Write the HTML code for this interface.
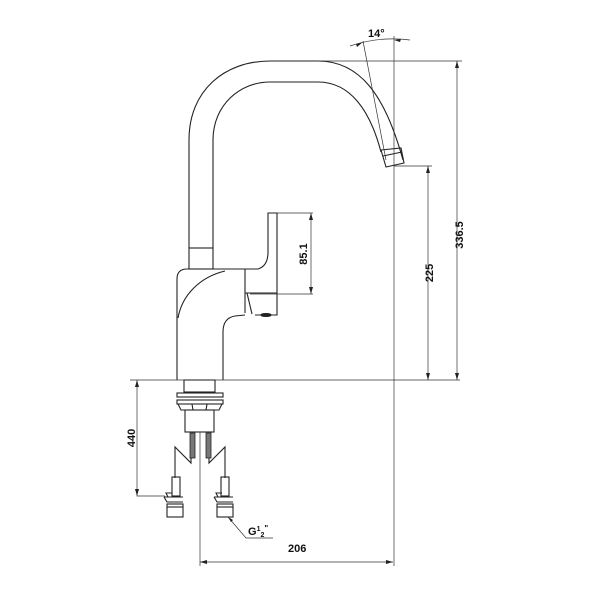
<!DOCTYPE html>
<html><head><style>body{margin:0;background:#fff}svg{display:block}</style></head><body>
<svg width="600" height="600" viewBox="0 0 600 600" xmlns="http://www.w3.org/2000/svg" font-family="Liberation Sans, sans-serif">
<g fill="none" stroke="#222" stroke-width="1.1">
<!-- spout outer -->
<path d="M189,248 L189,140 C189,90 225,61 270,61 L318,61 C360,61 385,95 403,160"/>
<!-- spout inner -->
<path d="M213,248 L213,140 C213,105 240,82 270,82 L318,82 C350,82 370,110 381,152"/>
<!-- nozzle -->
<path d="M381,150 L386,167 L404,163 L401,148 Z"/>
<path d="M383,156 L402,152"/>
<!-- collar -->
<rect x="189" y="248" width="24" height="21"/>
<!-- body -->
<path d="M177,380 L177,279 Q177,269 187,269 L245,269"/>
<path d="M225,271 C200,277 182,295 178,318"/>
<path d="M245,269 L245,313"/>
<path d="M245,269 L258,269 Q268,266 268,252 L268,213 L277,213 L277,315 L255,315"/>
<path d="M245,293 L277,293"/>
<path d="M247,293 L252,314"/>
<path d="M245,315 L235,316 Q223,318 223,332 L223,380"/>
<ellipse cx="266" cy="315" rx="5" ry="1.5" fill="#222"/>
<!-- base -->
<rect x="184" y="380" width="31" height="12"/>
<rect x="177" y="393" width="46" height="4"/>
<rect x="177" y="400" width="46" height="4"/>
<path d="M178,404 L181,410 L219,410 L222,404 M192,404 L193,410 M207,404 L206,410"/>
<rect x="185" y="410" width="29" height="22"/>
<!-- zigzags -->
<path d="M175,478 L175,447 L191,463 L191,457 M225,478 L225,447 L209,463 L209,457"/>
<!-- connectors -->
<rect x="172" y="477" width="8" height="19"/>
<path d="M164,497 L183,497 M164,497 L167,502 L183,502 M168,497 L166,493 L172,493"/>
<rect x="167" y="504" width="16" height="13"/>
<path d="M167,507 L183,507"/>
<rect x="221" y="477" width="8" height="19"/>
<path d="M214,497 L233,497 M214,497 L217,502 L233,502 M218,497 L216,493 L222,493"/>
<rect x="217" y="504" width="16" height="13"/>
<path d="M217,507 L233,507"/>
</g>
<rect x="190" y="433" width="5" height="25" fill="#777" stroke="#222" stroke-width="0.8"/>
<rect x="206" y="433" width="5" height="25" fill="#777" stroke="#222" stroke-width="0.8"/>
<!-- dimension lines -->
<g stroke="#333" stroke-width="0.7" fill="none">
<path d="M130,380 L460,380"/>
<path d="M200,432 L200,566"/>
<path d="M394,36 L394,566"/>
<path d="M318,61 L462,61"/>
<path d="M457,61 L457,380"/>
<path d="M394,166 L432,166"/>
<path d="M428,166 L428,380"/>
<path d="M277,213 L313,213 M250,294 L313,294 M311,213 L311,294"/>
<path d="M137,380 L137,496 L165,496"/>
<path d="M200,562 L393,562"/>
<path d="M228,517 L246,538 L273,538"/>
<path d="M363,41 L386,160"/>
<path d="M350,46 Q380,36 410,40"/>
</g>
<g fill="#222">
<path d="M457,61 l-2,7 h4z M457,380 l-2,-7 h4z"/>
<path d="M428,166 l-2,7 h4z M428,380 l-2,-7 h4z"/>
<path d="M311,213 l-2,7 h4z M311,294 l-2,-7 h4z"/>
<path d="M137,380 l-2,7 h4z M137,496 l-2,-7 h4z"/>
<path d="M200,562 l7,-2 v4z M393,562 l-7,-2 v4z"/>
<path d="M228,517 l5,3 l-2,2z"/>
<path d="M363,42 l-7,2 l1,3z M394,40 l7,-1 l-1,3z"/>
</g>
<g font-size="11" font-weight="bold" fill="#111">
<text x="368" y="37">14°</text>
<text x="288" y="552">206</text>
<text transform="translate(463,235) rotate(-90)" text-anchor="middle">336.5</text>
<text transform="translate(433,273) rotate(-90)" text-anchor="middle">225</text>
<text transform="translate(307,254) rotate(-90)" text-anchor="middle">85.1</text>
<text transform="translate(135,438) rotate(-90)" text-anchor="middle">440</text>
<text x="248" y="535">G<tspan font-size="7" dy="-4">1</tspan><tspan font-size="7" dy="6">2</tspan><tspan font-size="8" dy="-6">"</tspan></text>
</g>
</svg>
</body></html>
